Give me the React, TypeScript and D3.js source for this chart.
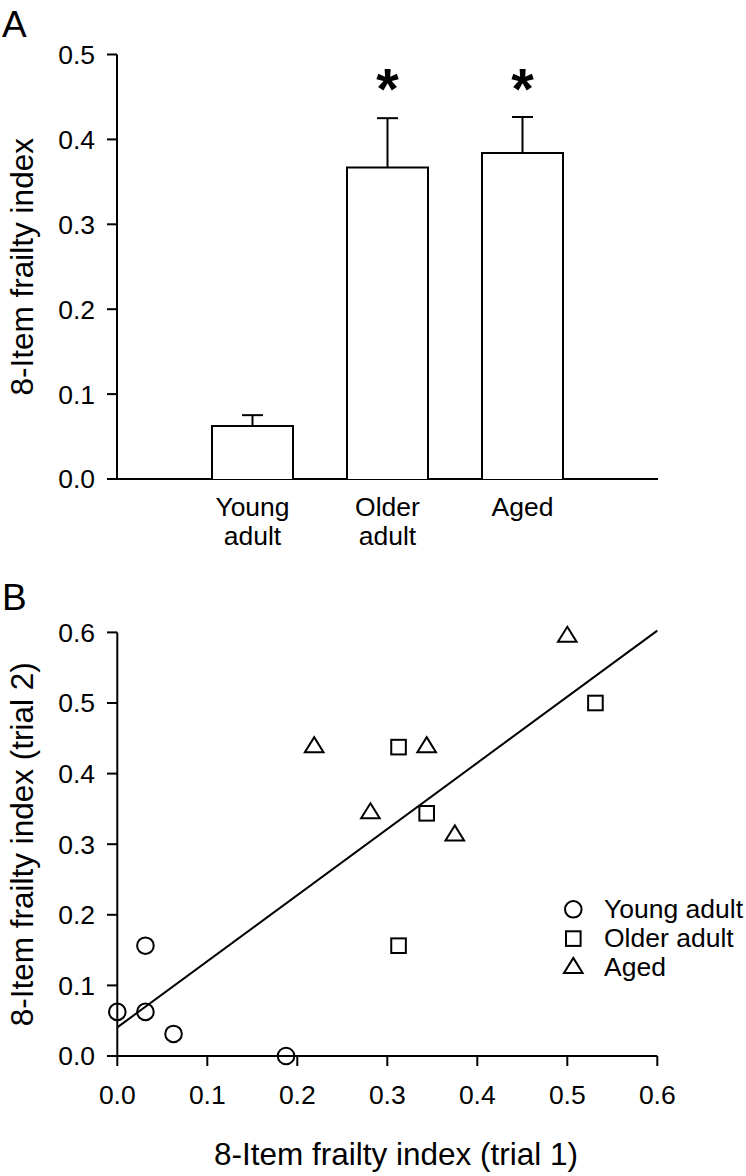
import React from "react";
import * as d3 from "d3";

// ---------- Panel A data ----------
const groups = ["Young adult", "Older adult", "Aged"];
const groupLabelLines = [["Young", "adult"], ["Older", "adult"], ["Aged"]];
const meanFI = [0.0624, 0.367, 0.384];
const semFI = [0.0128, 0.058, 0.0424];
const significant = [false, true, true];
const yTicksA = [0, 0.1, 0.2, 0.3, 0.4, 0.5];

// ---------- Panel B data ----------
const youngTrial1 = [0, 0.03125, 0.03125, 0.0625, 0.1875];
const youngTrial2 = [0.0625, 0.0625, 0.15625, 0.03125, 0];
const olderTrial1 = [0.3125, 0.34375, 0.3125, 0.53125];
const olderTrial2 = [0.4375, 0.34375, 0.15625, 0.5];
const agedTrial1 = [0.5, 0.21875, 0.34375, 0.28125, 0.375];
const agedTrial2 = [0.59375, 0.4375, 0.4375, 0.34375, 0.3125];
const ticksB = [0, 0.1, 0.2, 0.3, 0.4, 0.5, 0.6];
const legendLabels = ["Young adult", "Older adult", "Aged"];

const FONT = "'Liberation Sans', Arial, Helvetica, sans-serif";
const SW = 2;

function marker(shape: string, cx: number, cy: number, key: string) {
  if (shape === "circle")
    return <circle key={key} cx={cx} cy={cy} r={8.3} fill="none" stroke="#000" strokeWidth={SW} />;
  if (shape === "square")
    return <rect key={key} x={cx - 7.3} y={cy - 7.3} width={14.6} height={14.6} fill="none" stroke="#000" strokeWidth={SW} />;
  const path = d3.path();
  path.moveTo(cx, cy - 10);
  path.lineTo(cx + 9.3, cy + 5);
  path.lineTo(cx - 9.3, cy + 5);
  path.closePath();
  return <path key={key} d={path.toString()} fill="none" stroke="#000" strokeWidth={SW} strokeLinejoin="miter" />;
}

export default function App() {
  // Panel A scales
  const yA = d3.scaleLinear().domain([0, 0.5]).range([479, 54.5]);
  const xA = d3
    .scaleBand<string>()
    .domain(groups)
    .range([144.5, 630.5])
    .paddingInner(0.4)
    .paddingOuter(0.5);
  const axisLeftA = 117;

  // Panel B scales
  const xB = d3.scaleLinear().domain([0, 0.6]).range([117.3, 657.3]);
  const yB = d3.scaleLinear().domain([0, 0.6]).range([1056, 632.4]);

  const series = [
    { shape: "circle", xs: youngTrial1, ys: youngTrial2 },
    { shape: "square", xs: olderTrial1, ys: olderTrial2 },
    { shape: "triangle", xs: agedTrial1, ys: agedTrial2 },
  ];
  const allX = series.flatMap((s) => s.xs);
  const allY = series.flatMap((s) => s.ys);
  const mx = d3.mean(allX) as number;
  const my = d3.mean(allY) as number;
  const sxy = d3.sum(allX.map((x, i) => (x - mx) * (allY[i] - my)));
  const sxx = d3.sum(allX.map((x) => (x - mx) * (x - mx)));
  const slope = sxy / sxx;
  const intercept = my - slope * mx;
  const fitLine = d3
    .line<number>()
    .x((x) => xB(x))
    .y((x) => yB(intercept + slope * x));

  const fmt = d3.format(".1f");
  const TICK_FS = 26.5;
  const TITLE_FS = 31.5;

  return (
    <svg
      width={746}
      height={1176}
      style={{ position: "absolute", left: 0, top: 0, background: "#fff" }}
      fontFamily={FONT}
    >
      <rect x={0} y={0} width={746} height={1176} fill="#fff" />

      {/* ================= Panel A ================= */}
      <text x={2} y={36.5} fontSize={37}>A</text>
      <text
        transform={`translate(33, ${(yA(0) + yA(0.5)) / 2}) rotate(-90)`}
        textAnchor="middle"
        fontSize={TITLE_FS}
      >
        8-Item frailty index
      </text>

      {/* y axis */}
      <line x1={axisLeftA} x2={axisLeftA} y1={yA(0)} y2={yA(0.5)} stroke="#000" strokeWidth={SW} />
      {yTicksA.map((t) => (
        <g key={t}>
          <line x1={107} x2={axisLeftA} y1={yA(t)} y2={yA(t)} stroke="#000" strokeWidth={SW} />
          <text x={95} y={yA(t) + 9.4} textAnchor="end" fontSize={TICK_FS}>{fmt(t)}</text>
        </g>
      ))}
      {/* x axis */}
      <line x1={107} x2={658} y1={yA(0)} y2={yA(0)} stroke="#000" strokeWidth={SW} />

      {/* bars */}
      {groups.map((g, i) => {
        const x0 = xA(g) as number;
        const w = xA.bandwidth();
        const cx = x0 + w / 2;
        const top = yA(meanFI[i]);
        const errTop = yA(meanFI[i] + semFI[i]);
        return (
          <g key={g}>
            <line x1={cx} x2={cx} y1={top} y2={errTop} stroke="#000" strokeWidth={SW} />
            <line x1={cx - 10.5} x2={cx + 10.5} y1={errTop} y2={errTop} stroke="#000" strokeWidth={SW} />
            <path
              d={`M${x0},${yA(0)}V${top}H${x0 + w}V${yA(0)}`}
              fill="#fff"
              stroke="#000"
              strokeWidth={SW}
            />
            {significant[i] && (
              <text x={cx} y={109} textAnchor="middle" fontSize={58} fontWeight="bold">*</text>
            )}
            {groupLabelLines[i].map((ln, j) => (
              <text key={j} x={cx} y={516 + j * 29} textAnchor="middle" fontSize={TICK_FS}>{ln}</text>
            ))}
          </g>
        );
      })}

      {/* ================= Panel B ================= */}
      <text x={2} y={610} fontSize={37}>B</text>
      <text
        transform={`translate(33, ${(yB(0) + yB(0.6)) / 2}) rotate(-90)`}
        textAnchor="middle"
        fontSize={TITLE_FS}
      >
        8-Item frailty index (trial 2)
      </text>
      <text x={396} y={1165} textAnchor="middle" fontSize={TITLE_FS}>
        8-Item frailty index (trial 1)
      </text>

      {/* axes */}
      <line x1={xB(0)} x2={xB(0)} y1={yB(0)} y2={yB(0.6)} stroke="#000" strokeWidth={SW} />
      <line x1={107} x2={xB(0.6)} y1={yB(0)} y2={yB(0)} stroke="#000" strokeWidth={SW} />
      {ticksB.map((t) => (
        <g key={t}>
          <line x1={107} x2={xB(0)} y1={yB(t)} y2={yB(t)} stroke="#000" strokeWidth={SW} />
          <text x={95} y={yB(t) + 9.4} textAnchor="end" fontSize={TICK_FS}>{fmt(t)}</text>
          <line x1={xB(t)} x2={xB(t)} y1={yB(0)} y2={yB(0) + 10} stroke="#000" strokeWidth={SW} />
          <text x={xB(t)} y={1103.5} textAnchor="middle" fontSize={TICK_FS}>{fmt(t)}</text>
        </g>
      ))}

      {/* regression line */}
      <path d={fitLine([0, 0.6]) as string} fill="none" stroke="#000" strokeWidth={SW} />

      {/* points */}
      {series.map((s) => s.xs.map((x, i) => marker(s.shape, xB(x), yB(s.ys[i]), `${s.shape}-${i}`)))}

      {/* legend */}
      {legendLabels.map((lab, i) => {
        const ry = 909.3 + i * 29.3;
        return (
          <g key={lab}>
            {marker(series[i].shape, 573.3, ry, `leg-${i}`)}
            <text x={604} y={ry + 8.5} fontSize={TICK_FS}>{lab}</text>
          </g>
        );
      })}
    </svg>
  );
}
